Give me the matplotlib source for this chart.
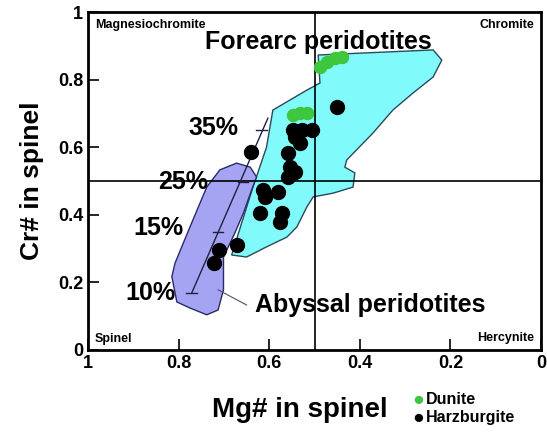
import matplotlib
matplotlib.use('Agg')
import matplotlib.pyplot as plt

plt.rcParams['font.family'] = ['Liberation Sans', 'DejaVu Sans']
plt.rcParams['font.weight'] = 'bold'

#
# Data
#
forearc_mg = [0.683, 0.636, 0.606, 0.592, 0.517, 0.488, 0.492, 0.238, 0.219, 0.238, 0.283,
              0.327, 0.371, 0.429, 0.433, 0.411, 0.415, 0.459, 0.503, 0.517, 0.539, 0.561,
              0.606, 0.650]
forearc_cr = [0.281, 0.482, 0.600, 0.710, 0.769, 0.790, 0.873, 0.888, 0.858, 0.808, 0.760,
              0.710, 0.642, 0.562, 0.541, 0.524, 0.482, 0.464, 0.453, 0.423, 0.364, 0.334,
              0.305, 0.275]

abyssal_mg = [0.815, 0.808, 0.775, 0.738, 0.709, 0.672, 0.642, 0.628, 0.639, 0.657, 0.676,
              0.701, 0.701, 0.713, 0.738, 0.775, 0.804]
abyssal_cr = [0.217, 0.257, 0.364, 0.482, 0.533, 0.553, 0.541, 0.512, 0.473, 0.405, 0.346,
              0.275, 0.178, 0.118, 0.104, 0.124, 0.142]

harz_mg = [0.451, 0.641, 0.547, 0.528, 0.506, 0.543, 0.532, 0.558, 0.554, 0.543, 0.558,
           0.613, 0.609, 0.580, 0.620, 0.572, 0.576, 0.672, 0.712, 0.723]
harz_cr = [0.720, 0.587, 0.651, 0.651, 0.651, 0.631, 0.612, 0.582, 0.542, 0.528, 0.513,
           0.473, 0.454, 0.468, 0.404, 0.404, 0.380, 0.311, 0.296, 0.257]

dun_mg = [0.547, 0.532, 0.517, 0.488, 0.473, 0.455, 0.440]
dun_cr = [0.695, 0.700, 0.700, 0.838, 0.853, 0.863, 0.866]

# partial melting trend
melt_pct = ['10%', '15%', '25%', '35%']
melt_mg = [0.771, 0.713, 0.658, 0.617]
melt_cr = [0.169, 0.350, 0.497, 0.651]
melt_line_mg = [0.771, 0.603]
melt_line_cr = [0.169, 0.686]
# label centres
melt_lab_mg = [0.863, 0.845, 0.790, 0.722]
melt_lab_cr = [0.169, 0.361, 0.497, 0.657]

ticks = [0, 0.2, 0.4, 0.6, 0.8, 1]
tick_labels = ['0', '0.2', '0.4', '0.6', '0.8', '1']

#
# Plot
#
fig = plt.figure(figsize=(5.47, 4.32), dpi=100)
ax = fig.add_axes([0.161, 0.190, 0.828, 0.782])

ax.fill(forearc_mg, forearc_cr, facecolor='#80fafa', edgecolor='#2a4a5a', lw=1.0, zorder=1)
ax.fill(abyssal_mg, abyssal_cr, facecolor='#a4a4f2', edgecolor='#2a2a6a', lw=1.0, zorder=2)

ax.axvline(0.5, color='black', lw=1.2, zorder=3)
ax.axhline(0.5, color='black', lw=1.2, zorder=3)

ax.plot(melt_line_mg, melt_line_cr, color='#202040', lw=1.0, zorder=4)
for m, c in zip(melt_mg, melt_cr):
    ax.plot([m - 0.012, m + 0.012], [c, c], color='#202040', lw=1.0, zorder=4)
for m, c, lab in zip(melt_lab_mg, melt_lab_cr, melt_pct):
    ax.text(m, c, lab, fontsize=18, fontweight='bold', ha='center', va='center', zorder=6)

ax.plot([0.713, 0.650], [0.178, 0.133], color='#505070', lw=0.8, zorder=4)

ax.scatter(harz_mg, harz_cr, s=100, color='black', zorder=5)
ax.scatter(dun_mg, dun_cr, s=75, color='#3ec63e', zorder=5)

ax.text(0.492, 0.911, 'Forearc peridotites', fontsize=18, fontweight='bold', ha='center', va='center')
ax.text(0.631, 0.133, 'Abyssal peridotites', fontsize=18, fontweight='bold', ha='left', va='center')

ax.text(0.985, 0.963, 'Magnesiochromite', fontsize=9, fontweight='bold', ha='left', va='center')
ax.text(0.015, 0.963, 'Chromite', fontsize=9, fontweight='bold', ha='right', va='center')
ax.text(0.985, 0.032, 'Spinel', fontsize=9, fontweight='bold', ha='left', va='center')
ax.text(0.015, 0.035, 'Hercynite', fontsize=9, fontweight='bold', ha='right', va='center')

ax.set_xlim(1, 0)
ax.set_ylim(0, 1)
ax.set_xticks(ticks)
ax.set_xticklabels(tick_labels)
ax.set_yticks(ticks)
ax.set_yticklabels(tick_labels)
ax.tick_params(direction='in', length=8, width=1.2, labelsize=13, top=False, right=False)
for t in ax.get_xticklabels() + ax.get_yticklabels():
    t.set_fontweight('bold')
for sp in ax.spines.values():
    sp.set_linewidth(2)

ax.set_xlabel('Mg# in spinel', fontsize=20, fontweight='bold')
ax.xaxis.set_label_coords(0.468, -0.14)
ax.set_ylabel('Cr# in spinel', fontsize=19, fontweight='bold', labelpad=10)

# legend
fig.text(0.765, 0.074, '\u25cf', color='#3ec63e', fontsize=14, ha='center', va='center')
fig.text(0.778, 0.076, 'Dunite', fontsize=11.5, fontweight='bold', ha='left', va='center')
fig.text(0.765, 0.032, '\u25cf', color='black', fontsize=14, ha='center', va='center')
fig.text(0.778, 0.034, 'Harzburgite', fontsize=11.5, fontweight='bold', ha='left', va='center')

fig.savefig('out.png', dpi=100)
